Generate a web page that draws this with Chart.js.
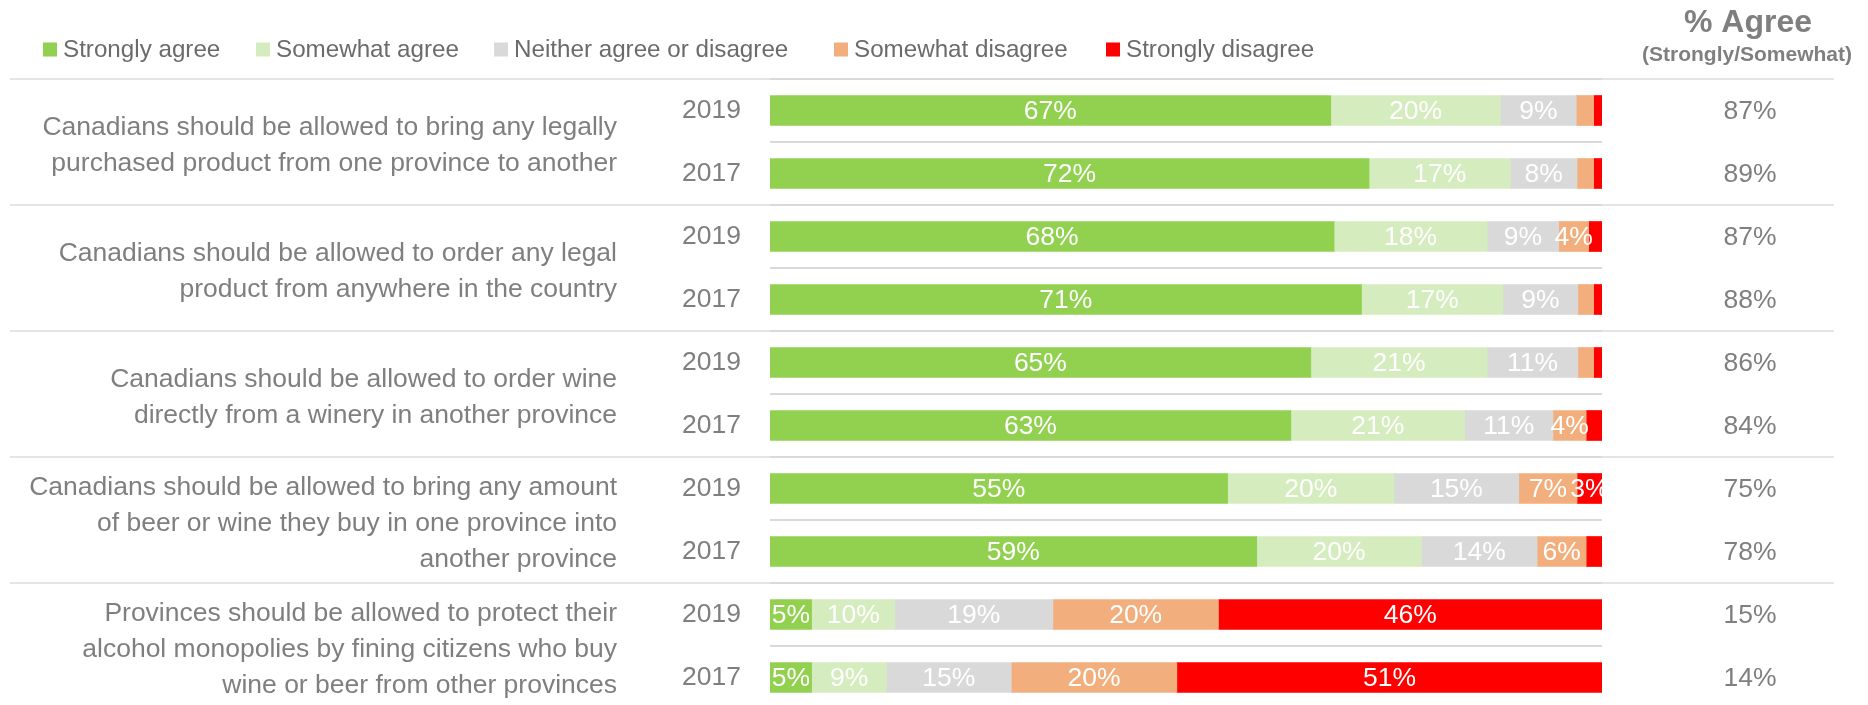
<!DOCTYPE html>
<html lang="en">
<head>
  <meta charset="UTF-8">
  <title>Interprovincial trade attitudes</title>
  <script src="https://cdn.jsdelivr.net/npm/chart.js"></script>
  <style>
    html, body { margin: 0; padding: 0; background: #fff; overflow: hidden; }
    canvas { position: absolute; left: 0; top: 0; }
  </style>
</head>
<body>
  <canvas id="surveyChart" width="1868" height="712" style="width:1868px;height:712px"></canvas>

  <script>
    // rows, top to bottom: each statement has a 2019 and a 2017 bar
    const years = ['2019', '2017', '2019', '2017', '2019', '2017', '2019', '2017', '2019', '2017'];

    const statements = [
      ['Canadians should be allowed to bring any legally', 'purchased product from one province to another'],
      ['Canadians should be allowed to order any legal', 'product from anywhere in the country'],
      ['Canadians should be allowed to order wine', 'directly from a winery in another province'],
      ['Canadians should be allowed to bring any amount', 'of beer or wine they buy in one province into', 'another province'],
      ['Provinces should be allowed to protect their', 'alcohol monopolies by fining citizens who buy', 'wine or beer from other provinces']
    ];

    const stronglyAgree    = [67.4, 72.0, 67.8, 71.1, 65.0, 62.6, 55.0, 58.5, 5.0, 5.0];
    const somewhatAgree    = [20.4, 17.0, 18.4, 17.0, 21.2, 20.9, 20.0, 19.8, 10.0, 9.0];
    const neitherAgree     = [9.1, 8.0, 8.6, 9.0, 10.9, 10.6, 15.0, 13.9, 19.0, 15.0];
    const somewhatDisagree = [2.1, 2.0, 3.6, 1.9, 1.9, 4.0, 7.0, 5.9, 19.9, 19.9];
    const stronglyDisagree = [1.0, 1.0, 1.6, 1.0, 1.0, 1.9, 3.0, 1.9, 46.1, 51.1];

    // "% Agree (Strongly/Somewhat)" column as printed
    const agreeTotals = [87, 89, 87, 88, 86, 84, 75, 78, 15, 14];

    const FONT = "'Liberation Sans', Arial, sans-serif";
    const GREY_TEXT = '#7f7f7f';

    Chart.defaults.font.family = FONT;

    const seriesNames = ['Strongly agree', 'Somewhat agree', 'Neither agree or disagree', 'Somewhat disagree', 'Strongly disagree'];
    const seriesColors = ['#92d050', '#d5ecbf', '#d9d9d9', '#f2af7d', '#ff0000'];
    const seriesData = [stronglyAgree, somewhatAgree, neitherAgree, somewhatDisagree, stronglyDisagree];

    const decor = {
      id: 'decor',
      beforeDraw(chart) {
        // long separators between statements
        const ctx = chart.ctx;
        const y = chart.scales.y;
        const step = y.getPixelForValue(1) - y.getPixelForValue(0);
        ctx.save();
        ctx.strokeStyle = '#e4e4e4';
        ctx.lineWidth = 2;
        for (let i = 0; i < years.length; i += 2) {
          const py = Math.round(y.getPixelForValue(i) - step / 2);
          ctx.beginPath();
          ctx.moveTo(10, py);
          ctx.lineTo(1834, py);
          ctx.stroke();
        }
        ctx.restore();
      },
      afterDatasetsDraw(chart) {
        // value labels inside the segments
        const ctx = chart.ctx;
        const area = chart.chartArea;
        ctx.save();
        ctx.beginPath();
        ctx.rect(area.left, area.top, area.right - area.left, area.bottom - area.top);
        ctx.clip();
        ctx.font = '26.5px ' + FONT;
        ctx.fillStyle = '#ffffff';
        ctx.textAlign = 'center';
        ctx.textBaseline = 'middle';
        chart.data.datasets.forEach((ds, di) => {
          chart.getDatasetMeta(di).data.forEach((bar, i) => {
            const v = ds.data[i];
            if (v < 2.5) return;
            ctx.fillText(Math.round(v) + '%', (bar.x + bar.base) / 2, bar.y + 1);
          });
        });
        ctx.restore();
      },
      afterDraw(chart) {
        const ctx = chart.ctx;
        const y = chart.scales.y;
        ctx.save();

        // legend
        ctx.font = '24.2px ' + FONT;
        ctx.textBaseline = 'middle';
        ctx.textAlign = 'left';
        const legendX = [43, 256, 494, 834, 1106];
        seriesNames.forEach((name, i) => {
          ctx.fillStyle = seriesColors[i];
          ctx.fillRect(legendX[i], 42.5, 14, 14);
          ctx.fillStyle = '#6b6b6b';
          ctx.fillText(name, legendX[i] + 20, 50);
        });

        // right column header
        ctx.fillStyle = GREY_TEXT;
        ctx.textAlign = 'center';
        ctx.textBaseline = 'alphabetic';
        ctx.font = 'bold 32px ' + FONT;
        ctx.fillText('% Agree', 1748, 32);
        ctx.font = 'bold 21px ' + FONT;
        ctx.fillText('(Strongly/Somewhat)', 1747, 61);

        // agree totals
        ctx.font = '26.5px ' + FONT;
        ctx.textBaseline = 'middle';
        agreeTotals.forEach((v, i) => {
          ctx.fillText(v + '%', 1750, y.getPixelForValue(i) + 1);
        });

        // statements
        ctx.textAlign = 'right';
        const lineH = 36;
        statements.forEach((lines, g) => {
          const mid = (y.getPixelForValue(2 * g) + y.getPixelForValue(2 * g + 1)) / 2 + 4;
          const top = mid - (lines.length - 1) * lineH / 2;
          lines.forEach((t, k) => ctx.fillText(t, 617, top + k * lineH));
        });

        ctx.restore();
      }
    };

    new Chart(document.getElementById('surveyChart'), {
      type: 'bar',
      data: {
        labels: years,
        datasets: seriesNames.map((name, i) => ({
          label: name,
          data: seriesData[i],
          backgroundColor: seriesColors[i],
          borderWidth: 0,
          barThickness: 30
        }))
      },
      options: {
        indexAxis: 'y',
        responsive: false,
        animation: false,
        layout: { padding: { left: 0, right: 266, top: 79, bottom: 3 } },
        plugins: {
          legend: { display: false },
          tooltip: { enabled: false }
        },
        scales: {
          x: { stacked: true, min: 0, max: 100, display: false },
          y: {
            stacked: true,
            afterFit(scale) {
              // fixed label column; tick padding must not eat the bottom
              scale.width = 770;
              scale.paddingTop = 0;
              scale.paddingBottom = 0;
            },
            border: { display: false },
            grid: { color: '#d9d9d9', lineWidth: 2, drawTicks: false },
            ticks: { color: GREY_TEXT, font: { size: 26.5 }, padding: 29 }
          }
        }
      },
      plugins: [decor]
    });
  </script>
</body>
</html>
